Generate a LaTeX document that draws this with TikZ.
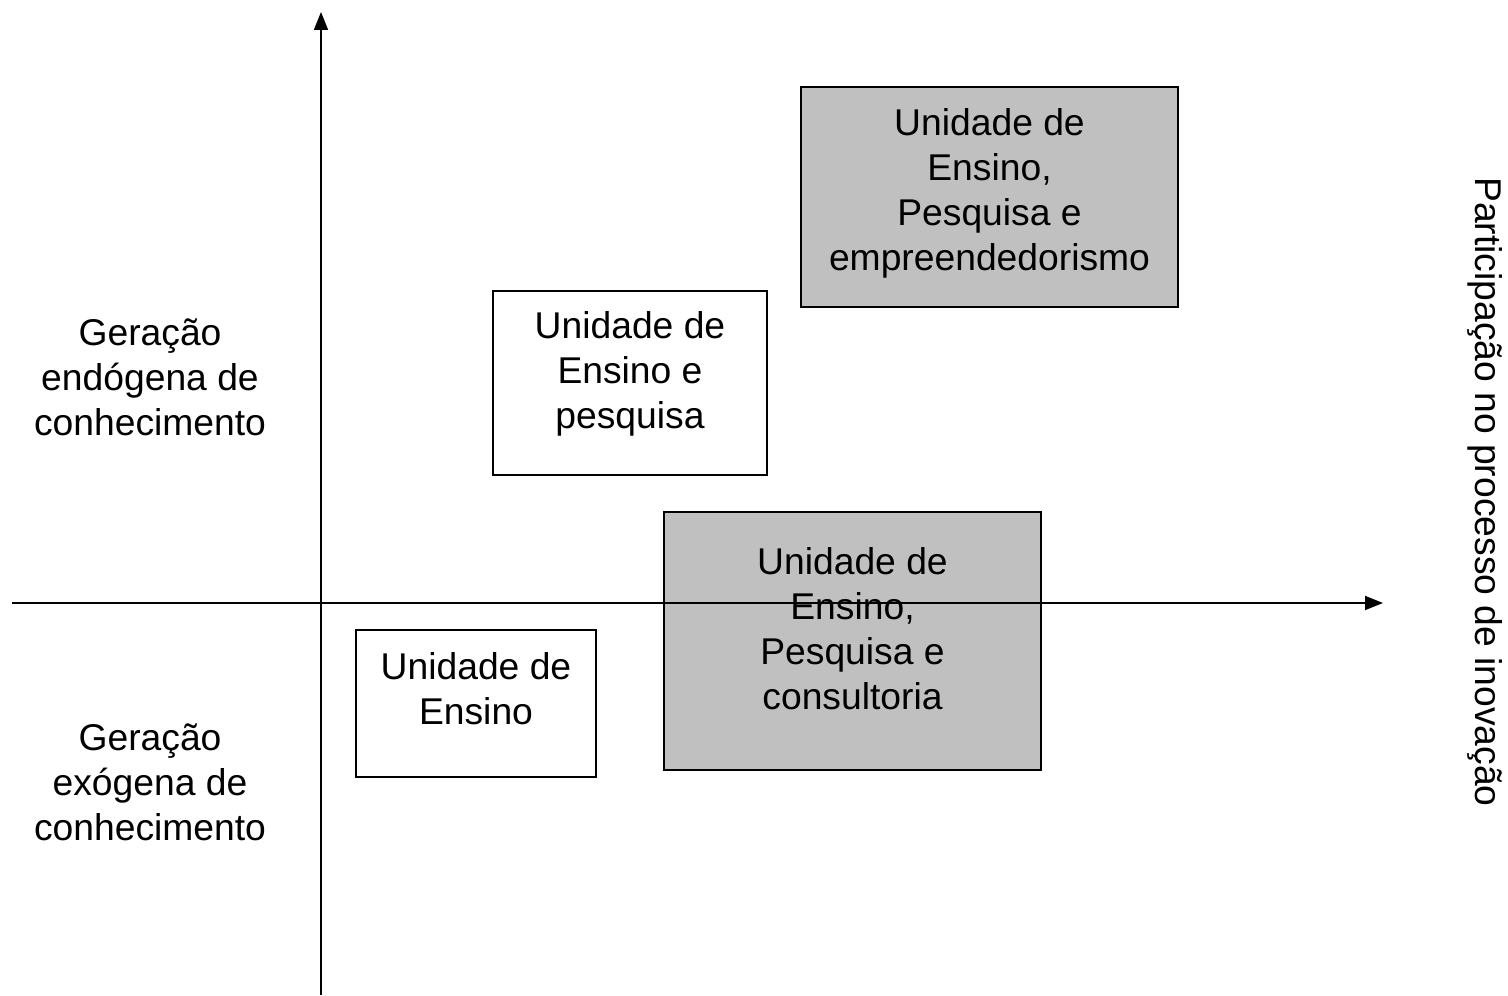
\documentclass[tikz,border=0pt]{standalone}
\usepackage{fontspec}
\setmainfont{Liberation Sans}
\usepackage{tikz}
\usetikzlibrary{positioning,arrows.meta}
\definecolor{boxgray}{RGB}{192,192,192}

\begin{document}
\begin{tikzpicture}[font=\fontsize{21.2}{25.6}\selectfont,
    unitbox/.style={shape=rectangle,draw,line width=1pt,inner sep=0mm},
    unittext/.style={align=center,inner sep=0mm},
    axis/.style={line width=1pt,-{Triangle[width=0.28cm,length=0.36cm]}}]
    \useasboundingbox (0,0) rectangle (30.16,19.92);
    %%%%% THE UNITS
    \node[unitbox, fill=boxgray, minimum width=7.54cm, minimum height=4.40cm] (EPE) at (19.79,15.98) {};
    \node[unitbox, fill=white, minimum width=5.48cm, minimum height=3.68cm] (EP) at (12.60,12.26) {};
    \node[unitbox, fill=boxgray, minimum width=7.54cm, minimum height=5.16cm] (EPC) at (17.05,7.10) {};
    \node[unitbox, fill=white, minimum width=4.80cm, minimum height=2.94cm] (E) at (9.52,5.85) {};
    %%%%% THE AXES
    \coordinate (YB) at (6.42,0.02);
    \coordinate (YT) at (6.42,19.68);
    \coordinate (XL) at (0.24,7.86);
    \coordinate (XR) at (27.66,7.86);
    \draw[axis] (YB) -- (YT);
    \draw[axis] (XL) -- (XR);
    %%%%% TEXT OF THE UNITS
    \node[unittext] (EPEtxt) at ([yshift=0.08cm]EPE.center) {Unidade de\\Ensino,\\Pesquisa e\\empreendedorismo};
    \node[unittext] (EPtxt) at ([yshift=0.18cm]EP.center) {Unidade de\\Ensino e\\pesquisa};
    \node[unittext] (EPCtxt) at ([yshift=0.24cm]EPC.center) {Unidade de\\Ensino,\\Pesquisa e\\consultoria};
    \node[unittext] (Etxt) at ([yshift=0.30cm]E.center) {Unidade de\\Ensino};
    %%%%% THE LABELS
    \node[align=center] (ENDO) at (3.00,12.38) {Geração\\endógena de\\conhecimento};
    \node[align=center] (EXO) at (3.00,4.28) {Geração\\exógena de\\conhecimento};
    \node[rotate=-90] (INOV) at (29.70,10.08) {Participação no processo de inovação};
\end{tikzpicture}
\end{document}
